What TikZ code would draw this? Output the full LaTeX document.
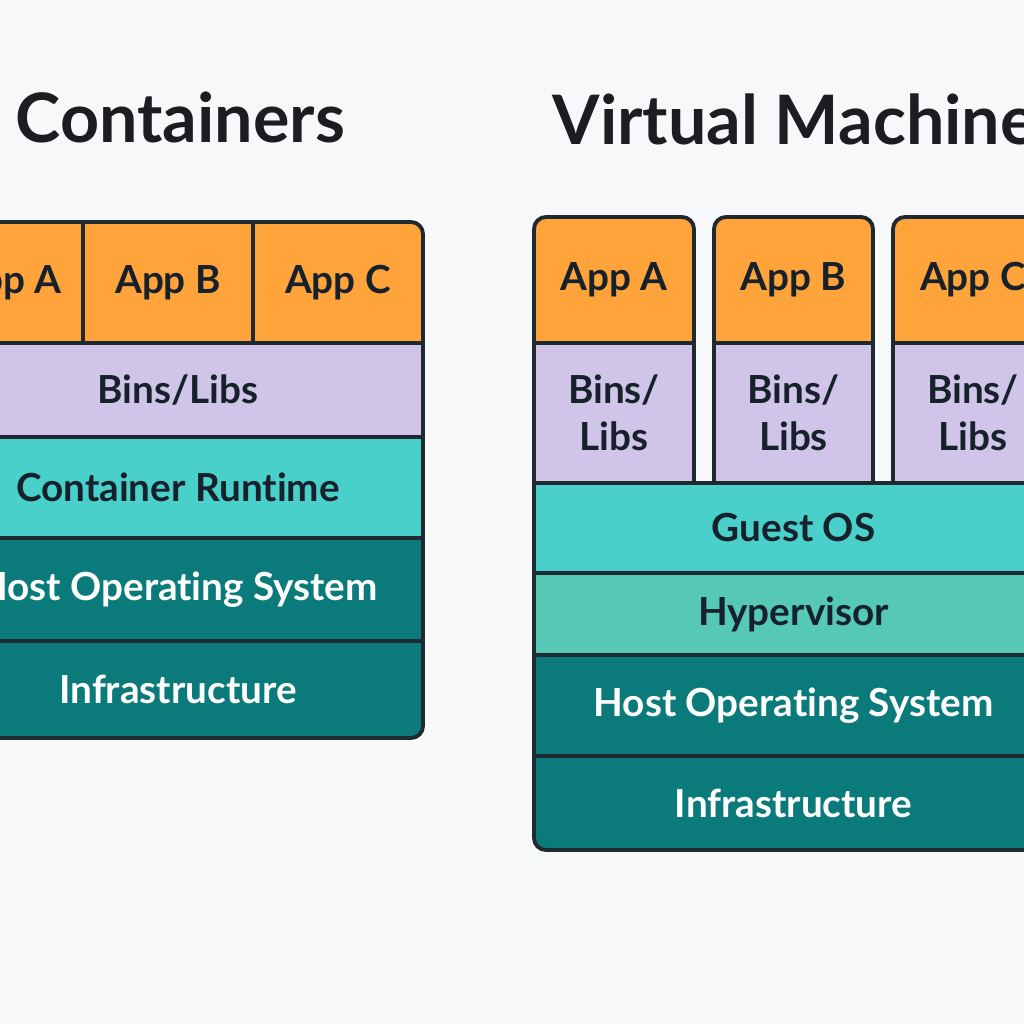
\documentclass[tikz,border=0pt]{standalone}
\usepackage{fontspec}
\setmainfont{Lato}[Ligatures={NoCommon}]
\usepackage{tikz}
\usetikzlibrary{positioning}
\definecolor{paperGrey}{HTML}{F7F8FA}
\definecolor{stackEdge}{HTML}{1F2A30}
\definecolor{inkDark}{HTML}{17212B}
\definecolor{titleInk}{HTML}{1B1D20}
\definecolor{appOrange}{HTML}{FFA33B}
\definecolor{libLilac}{HTML}{D0C5E8}
\definecolor{runCyan}{HTML}{4AD0CB}
\definecolor{hyperMint}{HTML}{56C8B6}
\definecolor{hostTeal}{HTML}{0B7A7A}

\begin{document}
\begin{tikzpicture}[x=0.01cm,y=-0.01cm,
  layer/.style={draw=stackEdge,line width=1pt,inner sep=0pt,align=center,font=\fontsize{11}{13.5}\selectfont\bfseries},
  app/.style={layer,fill=appOrange,text=inkDark},
  libs/.style={layer,fill=libLilac,text=inkDark},
  runtime/.style={layer,fill=runCyan,text=inkDark},
  hyper/.style={layer,fill=hyperMint,text=inkDark},
  host/.style={layer,fill=hostTeal,text=white},
  frame/.style={draw=stackEdge,line width=1.1pt,rounded corners=0.12cm},
  title/.style={anchor=base west,inner sep=0pt,text=titleInk,font=\fontsize{19.4}{22}\selectfont\bfseries}]
\useasboundingbox (0,0) rectangle (1024,1024);
\clip (0,0) rectangle (1024,1024);
\fill[paperGrey] (0,0) rectangle (1024,1024);

\node[title] (tCont) at (15,143) {Containers};
\node[title] (tVm) at (552,144) {Virtual Machines};

% containers stack
\begin{scope}
\clip[rounded corners=0.12cm] (-67,222) rectangle (423,738);
\node[app,minimum width=1.5cm,minimum height=1.21cm] (cA) at (8,282.5) {App A};
\node[app,minimum width=1.7cm,minimum height=1.21cm] (cB) at (168,282.5) {App B};
\node[app,minimum width=1.7cm,minimum height=1.21cm] (cC) at (338,282.5) {App C};
\node[libs,minimum width=4.9cm,minimum height=0.94cm] (cLibs) at (178,390) {Bins/Libs};
\node[runtime,minimum width=4.9cm,minimum height=1.01cm] (cRun) at (178,487.5) {Container Runtime};
\node[host,minimum width=4.9cm,minimum height=1.03cm] (cHost) at (178,589.5) {Host Operating System};
\node[host,minimum width=4.9cm,minimum height=0.97cm] (cInfra) at (178,689.5) {Infrastructure};
\end{scope}
\draw[frame] (-67,222) rectangle (423,738);

% virtual machines stack
\begin{scope}
\clip[rounded corners=0.12cm] (534,217) rectangle (694,500) (714,217) rectangle (873,500)
  (893,217) rectangle (1053,500) (534,470) rectangle (1053,850);
\node[app,minimum width=1.6cm,minimum height=1.26cm] (vA) at (614,280) {App A};
\node[app,minimum width=1.59cm,minimum height=1.26cm] (vB) at (793.5,280) {App B};
\node[app,minimum width=1.6cm,minimum height=1.26cm] (vC) at (973,280) {App C};
\node[libs,minimum width=1.6cm,minimum height=1.4cm] (vLibsA) at (614,413) {Bins/\\Libs};
\node[libs,minimum width=1.59cm,minimum height=1.4cm] (vLibsB) at (793.5,413) {Bins/\\Libs};
\node[libs,minimum width=1.6cm,minimum height=1.4cm] (vLibsC) at (973,413) {Bins/\\Libs};
\node[runtime,minimum width=5.19cm,minimum height=0.9cm] (vGuest) at (793.5,528) {Guest OS};
\node[hyper,minimum width=5.19cm,minimum height=0.82cm] (vHyper) at (793.5,614) {Hypervisor};
\node[host,minimum width=5.19cm,minimum height=1.01cm] (vHost) at (793.5,705.5) {Host Operating System};
\node[host,minimum width=5.19cm,minimum height=0.94cm] (vInfra) at (793.5,803) {Infrastructure};
\end{scope}
\draw[frame] (534,483) -- (534,217) -- (694,217) -- (694,483);
\draw[frame] (714,483) -- (714,217) -- (873,217) -- (873,483);
\draw[frame] (893,483) -- (893,217) -- (1053,217) -- (1053,483);
\draw[frame] (534,483) -- (534,850) -- (1053,850) -- (1053,483);
\end{tikzpicture}
\end{document}
